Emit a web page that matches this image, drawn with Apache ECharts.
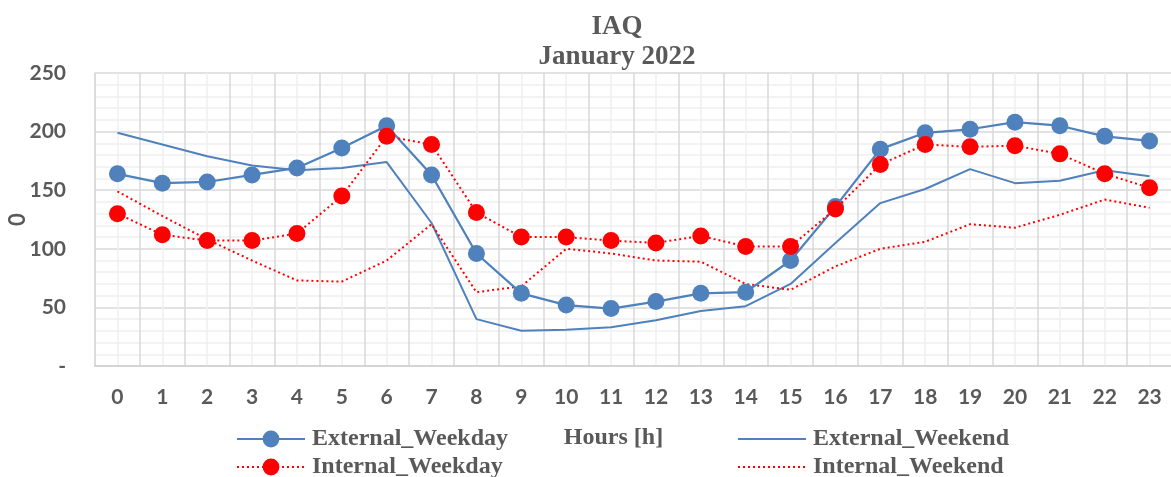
<!DOCTYPE html>
<html>
<head>
<meta charset="utf-8">
<title>IAQ January 2022</title>
<script src="https://cdn.jsdelivr.net/npm/echarts@6/dist/echarts.min.js"></script>
<style>
  html, body { margin: 0; padding: 0; background: #ffffff; }
  #chart { width: 1171px; height: 477px; }
</style>
</head>
<body>
<div id="chart"></div>
<script>
// Hourly indoor air quality profile, January 2022
const hours = ['0','1','2','3','4','5','6','7','8','9','10','11','12','13','14','15','16','17','18','19','20','21','22','23'];

const externalWeekday = [164, 156, 157, 163, 169, 186, 205, 163, 96, 62, 52, 49, 55, 62, 63, 90, 136, 185, 199, 202, 208, 205, 196, 192];
const internalWeekday = [130, 112, 107, 107, 113, 145, 196, 189, 131, 110, 110, 107, 105, 111, 102, 102, 134, 172, 189, 187, 188, 181, 164, 152];
const externalWeekend = [199, 189, 179, 171, 167, 169, 174, 122, 40, 30, 31, 33, 39, 47, 51, 70, 105, 139, 151, 168, 156, 158, 167, 162];
const internalWeekend = [149, 128, 108, 90, 73, 72, 90, 121, 63, 68, 100, 96, 90, 89, 70, 65, 85, 100, 106, 121, 118, 129, 142, 135];

const yTicks = [0, 50, 100, 150, 200, 250];

const BLUE = '#4F81BD';
const RED = '#FF0000';
const TEXT = '#595959';
const SERIF = '"Liberation Serif", "Times New Roman", serif';
const SANS = 'Lato, "Open Sans", sans-serif';

const chart = echarts.init(document.getElementById('chart'), null, { renderer: 'canvas' });

function legendFor(name, left, top, withMarker) {
  const entry = {
    data: [name],
    left: left,
    top: top,
    itemWidth: 68,
    itemHeight: 21,
    itemGap: 0,
    padding: 0,
    textStyle: { fontFamily: SERIF, fontWeight: 'bold', fontSize: 24, color: TEXT, padding: [0, 0, 0, 2] },
    selectedMode: false
  };
  if (!withMarker) entry.itemStyle = { opacity: 0 };
  return entry;
}

chart.setOption({
  animation: false,
  title: {
    text: 'IAQ\nJanuary 2022',
    left: 612,
    textAlign: 'center',
    top: 7,
    textStyle: { fontFamily: SERIF, fontWeight: 'bold', fontSize: 27, lineHeight: 30, color: TEXT }
  },
  legend: [
    legendFor('External_Weekday', 236, 427, true),
    legendFor('Internal_Weekday', 236, 455, true),
    legendFor('External_Weekend', 737, 427, false),
    legendFor('Internal_Weekend', 737, 455, false)
  ],
  grid: { left: 95, top: 73, width: 1077, height: 293, containLabel: false, outerBoundsMode: 'none' },
  xAxis: [
    {
      type: 'category',
      data: hours,
      boundaryGap: true,
      name: 'Hours [h]',
      nameLocation: 'middle',
      nameGap: 60,
      nameMoveOverlap: false,
      nameTextStyle: { fontFamily: SERIF, fontWeight: 'bold', fontSize: 24, color: TEXT, padding: [0, 40, 0, 0] },
      axisLine: { show: true, lineStyle: { color: '#d0d0d0', width: 1.5 } },
      axisTick: { show: false },
      axisLabel: { fontFamily: SANS, fontWeight: 'bold', fontSize: 21, color: TEXT, margin: 21 },
      splitLine: { show: false }
    },
    {
      // gridlines: boundaries (darker) alternate with category centres (lighter)
      type: 'value',
      min: 0,
      max: 48,
      interval: 1,
      show: true,
      position: 'bottom',
      axisLine: { show: false },
      axisTick: { show: false },
      axisLabel: { show: false },
      splitLine: { show: true, lineStyle: { color: ['#d9d9d9', '#efefef'], width: 1.5 } }
    }
  ],
  yAxis: {
    type: 'value',
    min: yTicks[0],
    max: yTicks[yTicks.length - 1],
    interval: 50,
    name: '0',
    nameLocation: 'middle',
    nameGap: 66,
    nameMoveOverlap: false,
    nameRotate: 90,
    nameTextStyle: { fontFamily: SANS, fontWeight: 'bold', fontSize: 22, color: TEXT },
    axisLine: { show: true, lineStyle: { color: '#d9d9d9', width: 1.5 } },
    axisTick: { show: false },
    axisLabel: {
      fontFamily: SANS, fontWeight: 'bold', fontSize: 21, color: TEXT, margin: 29,
      formatter: v => (v === 0 ? '-' : String(v))
    },
    splitLine: { show: true, lineStyle: { color: '#d9d9d9', width: 1.5 } },
    minorTick: { show: false, splitNumber: 5 },
    minorSplitLine: { show: true, lineStyle: { color: '#efefef', width: 1.5 } }
  },
  series: [
    {
      name: 'External_Weekend',
      type: 'line',
      data: externalWeekend,
      showSymbol: false,
      symbol: 'none',
      lineStyle: { color: BLUE, width: 2 },
      itemStyle: { color: BLUE },
      z: 2
    },
    {
      name: 'Internal_Weekend',
      type: 'line',
      data: internalWeekend,
      showSymbol: false,
      symbol: 'none',
      lineStyle: { color: RED, width: 2, type: [2, 3] },
      itemStyle: { color: RED },
      z: 2
    },
    {
      name: 'External_Weekday',
      type: 'line',
      data: externalWeekday,
      symbol: 'circle',
      symbolSize: 17,
      lineStyle: { color: BLUE, width: 2.25 },
      itemStyle: { color: BLUE },
      z: 3
    },
    {
      name: 'Internal_Weekday',
      type: 'line',
      data: internalWeekday,
      symbol: 'circle',
      symbolSize: 17,
      lineStyle: { color: RED, width: 2, type: [2, 3] },
      itemStyle: { color: RED },
      z: 4
    }
  ]
});
</script>
</body>
</html>
